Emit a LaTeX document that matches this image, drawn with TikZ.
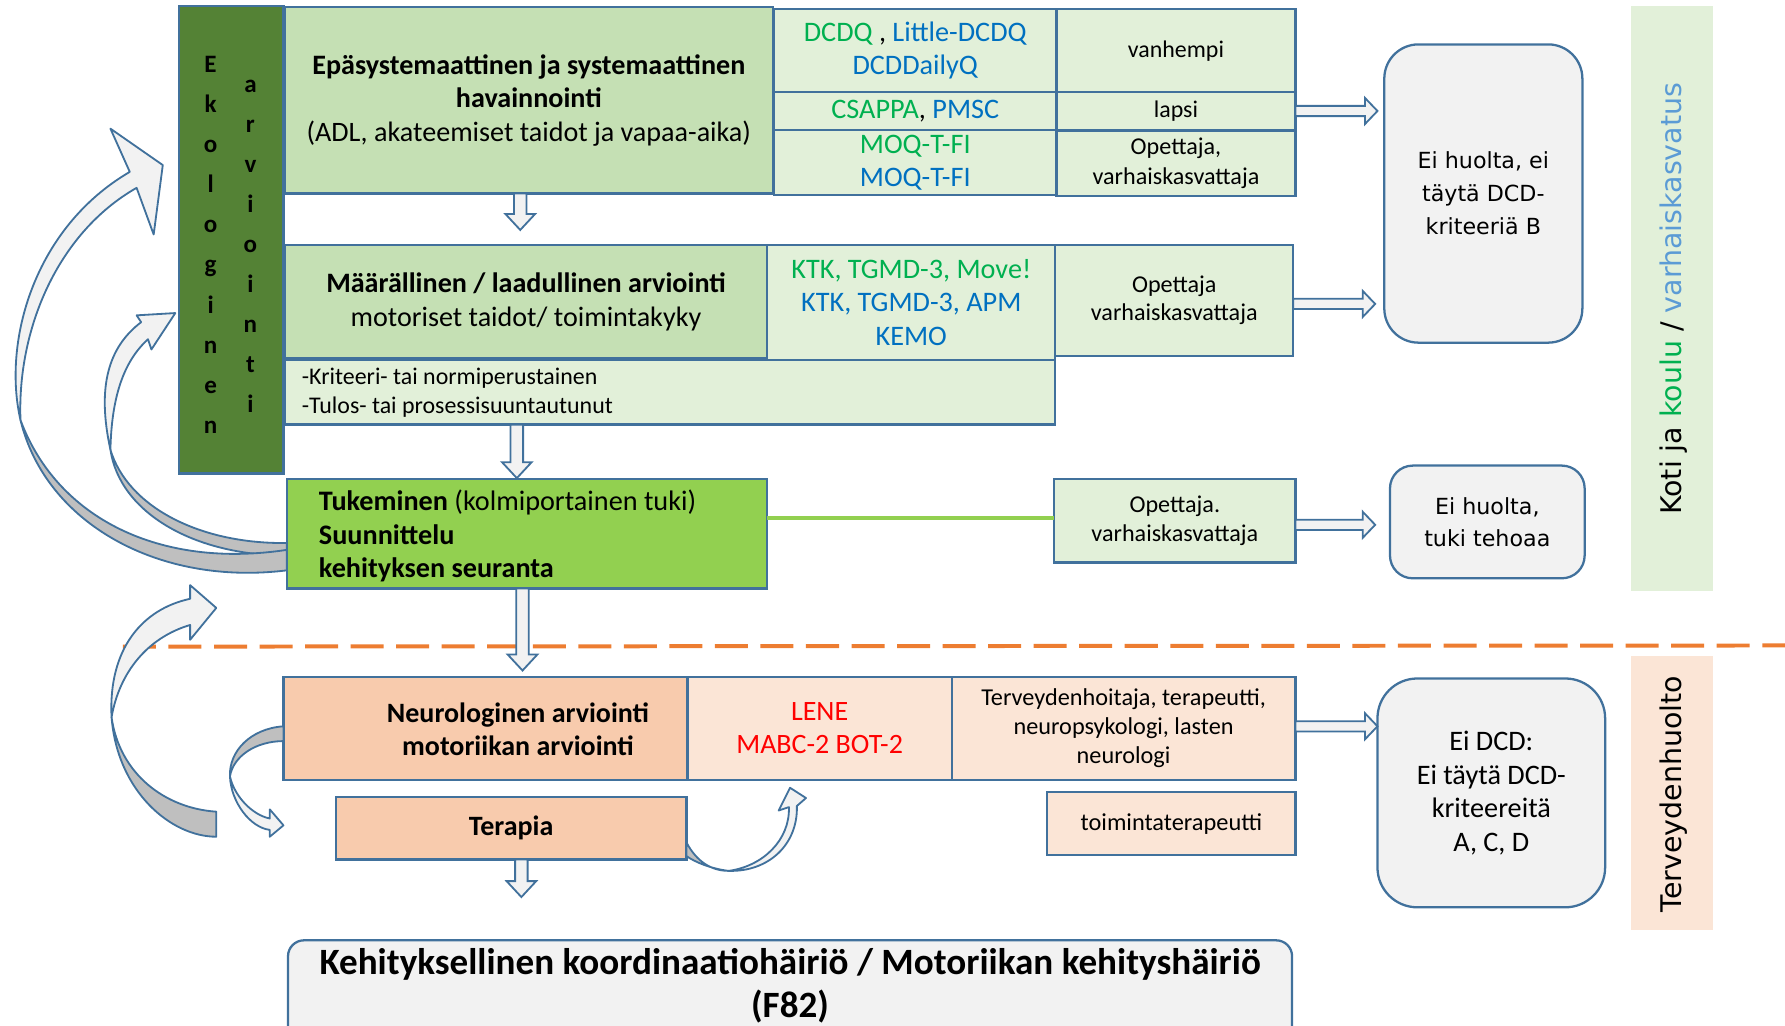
\documentclass[tikz,border=0pt]{standalone}
\usepackage{fontspec}
\setmainfont{Carlito}
\newfontfamily\dejavu{DejaVu Sans}
\usetikzlibrary{calc}

\definecolor{bord}{HTML}{41719C}
\definecolor{ekog}{HTML}{548235}
\definecolor{lg}{HTML}{C5E0B4}
\definecolor{llg}{HTML}{E2F0D9}
\definecolor{bgreen}{HTML}{92D050}
\definecolor{pe}{HTML}{F8CBAD}
\definecolor{lpe}{HTML}{FBE5D6}
\definecolor{gra}{HTML}{F2F2F2}
\definecolor{grb}{HTML}{BFBFBF}
\definecolor{tg}{HTML}{00B050}
\definecolor{tb}{HTML}{0070C0}
\definecolor{tlb}{HTML}{5B9BD5}
\definecolor{tr}{HTML}{FF0000}
\definecolor{orng}{HTML}{ED7D31}

\newcommand\fsz[2]{\fontsize{#1}{#2}\selectfont}

\begin{document}
\begin{tikzpicture}[x=1pt,y=-1pt,
  box/.style={draw=bord, line width=2pt, inner sep=0pt, outer sep=0pt, align=center},
  wh/.style 2 args={minimum width=#1pt, minimum height=#2pt},
  rbox/.style={box, fill=gra, rounded corners=#1},
  txt/.style={inner sep=0pt, align=center},
  rblock/.style={draw=bord, fill=gra, line width=1.6pt,
    to path={let \p1=(\tikztostart), \p2=(\tikztotarget) in
      (\x1,\y1+4.5pt) -- (\x2-11pt,\y1+4.5pt) -- (\x2-11pt,\y1+11.5pt) -- (\x2,\y1)
      -- (\x2-11pt,\y1-11.5pt) -- (\x2-11pt,\y1-4.5pt) -- (\x1,\y1-4.5pt) -- cycle}},
  dblock/.style={draw=bord, fill=gra, line width=1.6pt,
    to path={let \p1=(\tikztostart), \p2=(\tikztotarget) in
      (\x1-5.5pt,\y1) -- (\x1-5.5pt,\y2+14pt) -- (\x1-13pt,\y2+14pt) -- (\x1,\y2)
      -- (\x1+13pt,\y2+14pt) -- (\x1+5.5pt,\y2+14pt) -- (\x1+5.5pt,\y1) -- cycle}},
  clight/.style={draw=bord, line width=1.6pt, fill=gra, line join=round},
  cdark/.style={draw=bord, line width=1.6pt, fill=grb, line join=round}
]
\useasboundingbox (0,0) rectangle (1568,901);

% right side bands
\fill[llg] (1433,5) rectangle (1505,519);
\fill[lpe] (1433,576) rectangle (1505,817);
\node[txt, rotate=90, font=\dejavu\fsz{25}{30}] (lab1) at (1470,262.5)
  {Koti ja \textcolor{tg}{koulu} / \textcolor{tlb}{varhaiskasvatus}};
\node[txt, rotate=90, font=\dejavu\fsz{25}{30}] (lab2) at (1470,697.5) {Terveydenhuolto};

% Ekologinen arviointi
\node[box, fill=ekog, wh={92}{411}] (eko) at (203,210.5) {};
\node[txt, font=\bfseries\fsz{22}{35.25}] (eko1) at (185,215) {E\\k\\o\\l\\o\\g\\i\\n\\e\\n};
\node[txt, font=\bfseries\fsz{22}{35.2}] (eko2) at (220,216.5) {a\\r\\v\\i\\o\\i\\n\\t\\i};

% row 1
\node[box, fill=lg, wh={429}{164}, font=\fsz{24.7}{29.5}] (b1) at (464.5,88)
  {\textbf{Epäsystemaattinen ja systemaattinen}\\\textbf{havainnointi}\\(ADL, akateemiset taidot ja vapaa-aika)};
\node[box, fill=llg, wh={248}{73}, font=\fsz{24.8}{29}] (t11) at (804,44.5)
  {\textcolor{tg}{DCDQ} , \textcolor{tb}{Little-DCDQ}\\\textcolor{tb}{DCDDailyQ}};
\node[box, fill=llg, wh={210}{73}, font=\fsz{21}{25}] (t12) at (1033,44.5) {vanhempi};
\node[box, fill=llg, wh={248}{33}, font=\fsz{24.8}{29}] (t21) at (804,97.5)
  {\textcolor{tg}{CSAPPA}, \textcolor{tb}{PMSC}};
\node[box, fill=llg, wh={210}{33}, font=\fsz{21}{25}] (t22) at (1033,97.5) {lapsi};
\node[box, fill=llg, wh={248}{57}, font=\fsz{24.8}{29}] (t31) at (804,142.5)
  {\textcolor{tg}{MOQ-T-FI}\\\textcolor{tb}{MOQ-T-FI}};
\node[box, fill=llg, wh={210}{57}, font=\fsz{21.2}{26}] (t32) at (1033,143.5) {Opettaja,\\varhaiskasvattaja};

\node[rbox=30pt, wh={174}{262}, font=\dejavu\fsz{19.5}{29}] (ok1) at (1303,170)
  {Ei huolta, ei\\täytä DCD-\\kriteeriä B};

% row 2
\node[box, fill=lg, wh={424}{100}, font=\fsz{24.7}{30}] (b2) at (462,265)
  {\textbf{Määrällinen / laadullinen arviointi}\\motoriset taidot/ toimintakyky};
\node[box, fill=llg, wh={253}{101}, font=\fsz{24.8}{29.5}] (t41) at (800.5,265.5)
  {\textcolor{tg}{KTK, TGMD-3, Move!}\\\textcolor{tb}{KTK, TGMD-3, APM}\\\textcolor{tb}{KEMO}};
\node[box, fill=llg, wh={209}{98}, font=\fsz{21.2}{25}] (t42) at (1031.5,264) {Opettaja\\varhaiskasvattaja};
\node[box, fill=llg, wh={677}{57}] (b2low) at (588.5,344.5) {};
\node[txt, anchor=west, align=left, font=\fsz{21}{25}] (b2lowt) at (265,345)
  {-Kriteeri- tai normiperustainen\\-Tulos- tai prosessisuuntautunut};

% row 3
\node[box, fill=bgreen, wh={422}{96}] (tuk) at (463,469) {};
\node[txt, anchor=west, align=left, font=\fsz{24.8}{29.5}] (tukt) at (280,471)
  {\textbf{Tukeminen} (kolmiportainen tuki)\\\textbf{Suunnittelu}\\\textbf{kehityksen seuranta}};
\node[box, fill=llg, wh={212}{73}, font=\fsz{21.2}{25}] (t5) at (1032,457.5) {Opettaja.\\varhaiskasvattaja};
\node[rbox=20pt, wh={171}{99}, font=\dejavu\fsz{19.5}{28}] (ok2) at (1306.5,458.5) {Ei huolta,\\tuki tehoaa};
\draw[bgreen, line width=3pt] ($(tuk.east)+(0,-14)$) -- ($(t5.west)+(0,-2.5)$);

% dashed separator
\draw[orng, line width=3.5pt, dash pattern=on 29pt off 11pt] (108,568) -- (1568,567);

% row 4
\node[box, fill=pe, wh={355}{90}] (n1) at (426.5,640) {};
\node[txt, font=\bfseries\fsz{24.6}{29}] (n1t) at (455,641) {Neurologinen arviointi\\motoriikan arviointi};
\node[box, fill=lpe, wh={232}{90}, font=\fsz{24.6}{29}] (n2) at (720,640)
  {\textcolor{tr}{LENE}\\\textcolor{tr}{MABC-2 BOT-2}};
\node[box, fill=lpe, wh={302}{90}, font=\fsz{21.3}{25.5}] (n3) at (987,640)
  {Terveydenhoitaja, terapeutti,\\neuropsykologi, lasten\\neurologi};
\node[rbox=35pt, wh={200}{201}, font=\fsz{24.8}{29.5}] (ok3) at (1310,696.5)
  {Ei DCD:\\Ei täytä DCD-\\kriteereitä\\A, C, D};
\node[box, fill=pe, wh={308}{55}, font=\bfseries\fsz{24.6}{28}] (ter) at (449,727.5) {Terapia};
\node[box, fill=lpe, wh={218}{55}, font=\fsz{21.4}{25}] (toim) at (1029,723.5) {toimintaterapeutti};

% final box
\node[rbox=14pt, wh={882}{100}] (fin) at (694,876) {};
\node[txt, font=\bfseries\fsz{32.6}{38}] (fint) at (694,866)
  {Kehityksellinen koordinaatiohäiriö / Motoriikan kehityshäiriö\\(F82)};

% block arrows
\draw[dblock] ([xshift=-7.5pt]b1.south) to ([yshift=13pt]b2.north);
\draw[dblock] ($(b2low.south -| tuk.north)+(-9,0)$) to ([yshift=1pt]tuk.north);
\draw[dblock] ([xshift=-4pt]tuk.south) to ([yshift=6pt]n1.north);
\draw[dblock] ([xshift=9pt]ter.south) to ([yshift=38pt]fin.north);
\draw[rblock] (t22.east) to ([xshift=-6pt]ok1.west);
\draw[rblock] ($(t42.east)+(0,3)$) to ([xshift=-8pt]ok1.west);
\draw[rblock] ($(t5.east)+(0,3.5)$) to ([xshift=-13pt]ok2.west);
\draw[rblock] ($(n3.east)+(0,-2)$) to (ok3.west);

% curved arrows: B (small upper)
\draw[cdark] (97,395) .. controls (105,450) and (170,488) .. (252,488) -- (252,477)
  .. controls (175,478) and (112,445) .. (97,395) -- cycle;
\draw[clight] (97,395) .. controls (85,340) and (95,305) .. (124,283) -- (120,277) -- (154,275)
  -- (133,307) -- (130,298) .. controls (108,318) and (98,350) .. (97,395) -- cycle;
% A (large upper)
\draw[cdark] (18,369) .. controls (40,460) and (140,515) .. (252,501) -- (252,483)
  .. controls (140,500) and (50,455) .. (18,369) -- cycle;
\draw[clight] (18,369) .. controls (2,300) and (30,200) .. (114,151) -- (97,113) -- (143,145)
  -- (135,206) -- (120,165) .. controls (50,205) and (15,290) .. (18,369) -- cycle;
% C (lower left)
\draw[cdark] (98,630) .. controls (103,695) and (150,735) .. (190,735) -- (190,713)
  .. controls (145,710) and (105,680) .. (98,630) -- cycle;
\draw[clight] (98,630) .. controls (95,570) and (125,535) .. (167,526) -- (167,514) -- (190,534)
  -- (167,562) -- (167,549) .. controls (130,560) and (105,590) .. (98,630) -- cycle;
% D (neuro -> terapia)
\draw[cdark] (249,638) .. controls (220,640) and (201,660) .. (202,682)
  .. controls (205,664) and (225,651) .. (249,651) -- cycle;
\draw[clight] (202,682) .. controls (203,705) and (220,727) .. (237,729) -- (237,735) -- (249,725)
  -- (237,711) -- (237,719) .. controls (222,716) and (206,700) .. (202,682) -- cycle;
% E (terapia -> LENE)
\draw[cdark] (603,740) .. controls (612,757) and (625,765) .. (640,765)
  .. controls (624,763) and (610,757) .. (603,752) -- cycle;
\draw[clight] (640,765) .. controls (675,766) and (701,742) .. (700,708) -- (708,701) -- (694,692)
  -- (684,712) -- (693,709) .. controls (694,738) and (670,761) .. (640,765) -- cycle;
\end{tikzpicture}
\end{document}
